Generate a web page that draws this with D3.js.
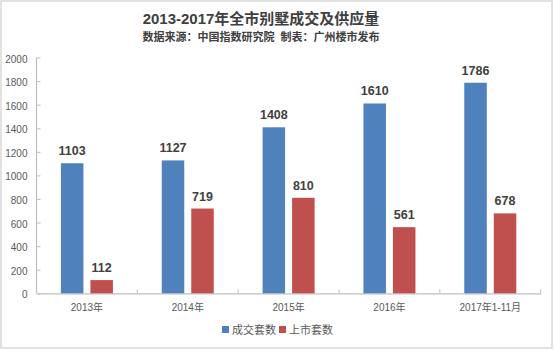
<!DOCTYPE html>
<html><head><meta charset="utf-8">
<script src="https://cdn.jsdelivr.net/npm/d3@7"></script>
<style>
html,body{margin:0;padding:0;background:#fff;}
svg{display:block;}
</style></head>
<body>
<script>
const categories = ["2013年","2014年","2015年","2016年","2017年1-11月"];
const seriesNames = ["成交套数","上市套数"];
const dealValues = [1103,1127,1408,1610,1786];
const supplyValues = [112,719,810,561,678];
const yTicks = [0,200,400,600,800,1000,1200,1400,1600,1800,2000];
const colors = ["#4F81BD","#C0504D"];
const titleText = "2013-2017年全市别墅成交及供应量";
const subtitleText = "数据来源：中国指数研究院  制表：广州楼市发布";

const W = 554, H = 350;
const svg = d3.select("body").append("svg").attr("width", W).attr("height", H);
svg.append("rect").attr("x",1).attr("y",1).attr("width",W-3).attr("height",H-3)
  .attr("fill","#fff").attr("stroke","#d9d9d9").attr("stroke-width",1.5);

const cjk = "'Liberation Sans','Noto Sans CJK SC',sans-serif";
svg.append("text").attr("x",261).attr("y",24).attr("text-anchor","middle")
  .attr("font-family",cjk).attr("font-weight","bold").attr("font-size",15).attr("fill","#404040")
  .text(titleText);
svg.append("text").attr("x",261).attr("y",41).attr("text-anchor","middle")
  .attr("font-family",cjk).attr("font-weight","bold").attr("font-size",11).attr("fill","#404040")
  .style("white-space","pre")
  .text(subtitleText);

const x0 = d3.scaleBand().domain(categories).range([36.5, 540.7]).padding(0);
const x1 = d3.scaleBand().domain(seriesNames).range([0, x0.bandwidth()]).paddingInner(0.237).paddingOuter(0.827);
const y = d3.scaleLinear().domain([0,2000]).range([293.3, 57.5]);

const data = categories.map((c,i)=>({cat:c, vals:[dealValues[i], supplyValues[i]]}));

// axes
const yAxis = svg.append("g").attr("transform","translate(36.5,0)")
  .call(d3.axisLeft(y).tickValues(yTicks).tickSize(-4).tickPadding(9).tickFormat(d3.format("d")));
yAxis.select(".domain").remove();
yAxis.append("line").attr("x1",0).attr("x2",0).attr("y1",y(2000)).attr("y2",y(0)).attr("stroke","#bfbfbf").attr("stroke-width",1.2);
yAxis.selectAll(".tick line").attr("stroke","#bfbfbf");
yAxis.selectAll(".tick text").attr("font-family","'Liberation Sans',sans-serif").attr("font-size",10).attr("fill","#595959").attr("dy","0.45em");

const xAxis = svg.append("g").attr("transform",`translate(0,${y(0)})`)
  .call(d3.axisBottom(x0).tickSize(0).tickPadding(9));
xAxis.select(".domain").attr("stroke","#bfbfbf").attr("stroke-width",1.2);
xAxis.selectAll(".tick text").attr("font-family",cjk).attr("font-size",10).attr("fill","#595959").attr("dy","0.9em");
// boundary ticks pointing up
const bounds = categories.map(c=>x0(c)+x0.bandwidth());
svg.append("g").selectAll("line").data(bounds).join("line")
  .attr("x1",d=>d).attr("x2",d=>d).attr("y1",y(0)-4).attr("y2",y(0)).attr("stroke","#bfbfbf").attr("stroke-width",1);

// bars
const g = svg.append("g").selectAll("g").data(data).join("g")
  .attr("transform",d=>`translate(${x0(d.cat)},0)`);
g.selectAll("rect").data(d=>d.vals.map((v,k)=>({k,v}))).join("rect")
  .attr("x",d=>x1(seriesNames[d.k])).attr("width",x1.bandwidth())
  .attr("y",d=>y(d.v)).attr("height",d=>y(0)-y(d.v))
  .attr("fill",d=>colors[d.k]);
g.selectAll("text").data(d=>d.vals.map((v,k)=>({k,v}))).join("text")
  .attr("x",d=>x1(seriesNames[d.k])+x1.bandwidth()/2).attr("y",d=>y(d.v)-8)
  .attr("text-anchor","middle").attr("font-family","'Liberation Sans',sans-serif")
  .attr("font-weight","bold").attr("font-size",12.5).attr("fill","#404040")
  .text(d=>d.v);

// legend
const leg = svg.append("g").attr("transform","translate(222,330)");
const items = [{n:seriesNames[0],c:colors[0],x:0},{n:seriesNames[1],c:colors[1],x:57}];
items.forEach(it=>{
  leg.append("rect").attr("x",it.x).attr("y",-4).attr("width",7).attr("height",7).attr("fill",it.c);
  leg.append("text").attr("x",it.x+10).attr("y",0).attr("dy","0.35em")
    .attr("font-family",cjk).attr("font-size",11).attr("fill","#595959").text(it.n);
});
</script>
</body></html>
